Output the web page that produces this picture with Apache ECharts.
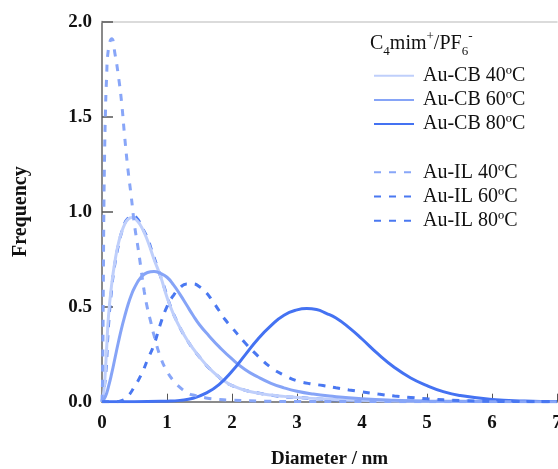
<!DOCTYPE html>
<html>
<head>
<meta charset="utf-8">
<script src="https://cdn.jsdelivr.net/npm/echarts@6/dist/echarts.min.js"></script>
<style>
html,body{margin:0;padding:0;background:#fff;}
#c{width:558px;height:469px;}
</style>
</head>
<body>
<div id="c"></div>
<script>
// ---- data ----
var xTicks = [0, 1, 2, 3, 4, 5, 6, 7];
var yTicks = [0.0, 0.5, 1.0, 1.5, 2.0];

var cb40X = [0, 0.03, 0.05, 0.07, 0.1, 0.15, 0.2, 0.25, 0.3, 0.35, 0.4, 0.46, 0.52, 0.58, 0.65, 0.72, 0.8, 0.9, 1.0, 1.1, 1.2, 1.3, 1.4, 1.5, 1.6, 1.7, 1.8, 1.9, 2.0, 2.2, 2.4, 2.6, 2.8, 3.0, 3.5, 4.0, 4.5, 5.0, 6.0, 7.0];
var cb40Y = [0, 0.06, 0.15, 0.27, 0.45, 0.62, 0.74, 0.83, 0.89, 0.935, 0.96, 0.97, 0.96, 0.935, 0.89, 0.83, 0.75, 0.66, 0.55, 0.46, 0.39, 0.33, 0.28, 0.235, 0.195, 0.16, 0.13, 0.105, 0.085, 0.06, 0.045, 0.035, 0.028, 0.022, 0.013, 0.007, 0.004, 0.002, 0.0005, 0];

var cb60X = [0, 0.05, 0.1, 0.15, 0.2, 0.25, 0.3, 0.35, 0.4, 0.45, 0.5, 0.6, 0.7, 0.8, 0.9, 1.0, 1.1, 1.2, 1.3, 1.4, 1.5, 1.65, 1.8, 2.0, 2.2, 2.4, 2.6, 2.8, 3.0, 3.25, 3.5, 4.0, 4.5, 5.0, 6.0, 7.0];
var cb60Y = [0, 0.025, 0.08, 0.15, 0.23, 0.31, 0.385, 0.45, 0.51, 0.56, 0.60, 0.655, 0.68, 0.685, 0.675, 0.655, 0.615, 0.565, 0.51, 0.455, 0.405, 0.345, 0.29, 0.225, 0.17, 0.13, 0.097, 0.073, 0.055, 0.04, 0.03, 0.016, 0.008, 0.004, 0.001, 0];

var cb80X = [0, 0.5, 1.0, 1.2, 1.4, 1.6, 1.8, 2.0, 2.2, 2.4, 2.6, 2.8, 3.0, 3.15, 3.3, 3.45, 3.6, 3.8, 4.0, 4.25, 4.5, 4.75, 5.0, 5.25, 5.5, 6.0, 6.5, 7.0];
var cb80Y = [0, 0, 0.003, 0.007, 0.018, 0.045, 0.09, 0.16, 0.245, 0.33, 0.40, 0.455, 0.483, 0.49, 0.485, 0.465, 0.44, 0.39, 0.33, 0.25, 0.18, 0.125, 0.085, 0.053, 0.033, 0.012, 0.004, 0.001];

var il40X = [0, 0.01, 0.02, 0.03, 0.04, 0.05, 0.07, 0.1, 0.15, 0.2, 0.25, 0.3, 0.35, 0.4, 0.45, 0.5, 0.55, 0.6, 0.65, 0.7, 0.75, 0.8, 0.9, 1.0, 1.1, 1.2, 1.3, 1.4, 1.6, 1.8, 2.0, 2.5, 3.0, 7.0];
var il40Y = [0, 0.15, 0.6, 1.05, 1.3, 1.48, 1.7, 1.86, 1.91, 1.83, 1.72, 1.58, 1.39, 1.22, 1.08, 0.93, 0.82, 0.70, 0.58, 0.49, 0.42, 0.35, 0.235, 0.16, 0.11, 0.075, 0.05, 0.035, 0.02, 0.012, 0.008, 0.003, 0.001, 0];

var il60X = [0, 0.05, 0.1, 0.15, 0.2, 0.25, 0.3, 0.35, 0.4, 0.47, 0.55, 0.62, 0.7, 0.76, 0.85, 0.95, 1.05, 1.15, 1.3, 1.5, 1.75, 2.0, 2.5, 3.0, 4.0, 7.0];
var il60Y = [0, 0.12, 0.4, 0.6, 0.73, 0.82, 0.89, 0.94, 0.965, 0.98, 0.96, 0.915, 0.86, 0.80, 0.71, 0.61, 0.505, 0.425, 0.33, 0.235, 0.145, 0.085, 0.04, 0.022, 0.007, 0];

var il80X = [0, 0.2, 0.3, 0.4, 0.5, 0.6, 0.7, 0.8, 0.9, 1.0, 1.1, 1.2, 1.3, 1.4, 1.5, 1.6, 1.7, 1.8, 1.9, 2.0, 2.2, 2.4, 2.6, 2.8, 3.0, 3.2, 3.4, 3.6, 3.8, 4.0, 4.25, 4.5, 4.75, 5.0, 5.5, 6.0, 7.0];
var il80Y = [0, 0, 0.005, 0.03, 0.08, 0.14, 0.22, 0.30, 0.41, 0.50, 0.56, 0.60, 0.62, 0.62, 0.605, 0.575, 0.53, 0.48, 0.43, 0.39, 0.31, 0.24, 0.18, 0.14, 0.11, 0.095, 0.085, 0.073, 0.062, 0.052, 0.04, 0.03, 0.022, 0.015, 0.006, 0.002, 0];

var names = ['Au-CB 40ºC', 'Au-CB 60ºC', 'Au-CB 80ºC', 'Au-IL 40ºC', 'Au-IL 60ºC', 'Au-IL 80ºC'];
var colors = {
  'Au-CB 40ºC': '#bfcffb',
  'Au-CB 60ºC': '#86a4f7',
  'Au-CB 80ºC': '#4472f2',
  'Au-IL 40ºC': '#88a6f8',
  'Au-IL 60ºC': '#4a78f1',
  'Au-IL 80ºC': '#4a78f1'
};

function pairs(xs, ys) {
  var out = [];
  for (var i = 0; i < xs.length; i++) out.push([xs[i], ys[i]]);
  return out;
}

function mk(name, xs, ys, dashed) {
  return {
    name: name,
    type: 'line',
    data: pairs(xs, ys),
    smooth: 0.5,
    symbol: 'none',
    showSymbol: false,
    clip: true,
    lineStyle: {
      color: colors[name],
      width: 3,
      type: dashed ? [7, 8] : 'solid',
      cap: 'butt'
    },
    itemStyle: { color: colors[name] },
    emphasis: { disabled: true }
  };
}

var serif = '"Liberation Serif", "Times New Roman", serif';
var legendText = { fontFamily: serif, fontSize: 20, fontWeight: 'normal', color: '#111', lineHeight: 20, padding: [0, 0, 0, 4] };

var chart = echarts.init(document.getElementById('c'), null, { renderer: 'canvas' });
chart.setOption({
  animation: false,
  backgroundColor: '#ffffff',
  grid: { left: 102, right: 1, top: 21.7, bottom: 67.3, containLabel: false, outerBoundsMode: 'none' },
  title: {
    left: 370,
    top: 30,
    padding: 0,
    text: '{n|C}{sub|4}{n|mim}{sup|+}{n|/PF}{sub|6}{sup|-}',
    textStyle: {
      fontWeight: 'normal',
      rich: {
        n: { fontFamily: serif, fontSize: 20, fontWeight: 'normal', color: '#111', lineHeight: 28 },
        sub: { fontFamily: serif, fontSize: 13, fontWeight: 'normal', color: '#111', verticalAlign: 'bottom', lineHeight: 14 },
        sup: { fontFamily: serif, fontSize: 13, fontWeight: 'normal', color: '#111', verticalAlign: 'top', lineHeight: 14 }
      }
    }
  },
  legend: [
    {
      data: names.slice(0, 3),
      orient: 'vertical',
      left: 373,
      top: 65.7,
      padding: 0,
      itemWidth: 40,
      itemHeight: 14,
      itemGap: 4.2,
      selectedMode: false,
      itemStyle: { opacity: 0, borderWidth: 0 },
      textStyle: legendText
    },
    {
      data: names.slice(3, 6),
      orient: 'vertical',
      left: 373,
      top: 162.3,
      padding: 0,
      itemWidth: 40,
      itemHeight: 14,
      itemGap: 4.2,
      selectedMode: false,
      itemStyle: { opacity: 0, borderWidth: 0 },
      textStyle: legendText
    }
  ],
  xAxis: [
    {
      type: 'value',
      min: xTicks[0],
      max: xTicks[xTicks.length - 1],
      interval: 1,
      name: 'Diameter / nm',
      nameLocation: 'middle',
      nameGap: 48,
      nameTextStyle: { fontFamily: serif, fontSize: 19, fontWeight: 'bold', color: '#111' },
      axisLine: { show: true, lineStyle: { color: '#8a8a8a', width: 2 } },
      axisTick: { show: true, inside: true, length: 8, lineStyle: { color: '#555', width: 1 } },
      axisLabel: { margin: 12, fontFamily: serif, fontSize: 19, fontWeight: 'bold', color: '#111', hideOverlap: false },
      splitLine: { show: false }
    },
    {
      type: 'value',
      position: 'top',
      min: 0,
      max: 7,
      axisLine: { show: true, lineStyle: { color: '#cfcfcf', width: 1.5 } },
      axisTick: { show: false },
      axisLabel: { show: false },
      splitLine: { show: false }
    }
  ],
  yAxis: {
    type: 'value',
    min: yTicks[0],
    max: yTicks[yTicks.length - 1],
    interval: 0.5,
    name: 'Frequency',
    nameLocation: 'middle',
    nameGap: 71,
    nameTextStyle: { fontFamily: serif, fontSize: 20, fontWeight: 'bold', color: '#111' },
    axisLine: { show: true, lineStyle: { color: '#8a8a8a', width: 2 } },
    axisTick: { show: true, inside: true, length: 11, lineStyle: { color: '#555', width: 1.5 } },
    axisLabel: {
      margin: 10,
      fontFamily: serif,
      fontSize: 19,
      fontWeight: 'bold',
      color: '#111',
      formatter: function (v) { return v.toFixed(1); }
    },
    splitLine: { show: false }
  },
  series: [
    mk('Au-IL 60ºC', il60X, il60Y, true),
    mk('Au-CB 40ºC', cb40X, cb40Y, false),
    mk('Au-CB 60ºC', cb60X, cb60Y, false),
    mk('Au-CB 80ºC', cb80X, cb80Y, false),
    mk('Au-IL 40ºC', il40X, il40Y, true),
    mk('Au-IL 80ºC', il80X, il80Y, true)
  ]
});
</script>
</body>
</html>
